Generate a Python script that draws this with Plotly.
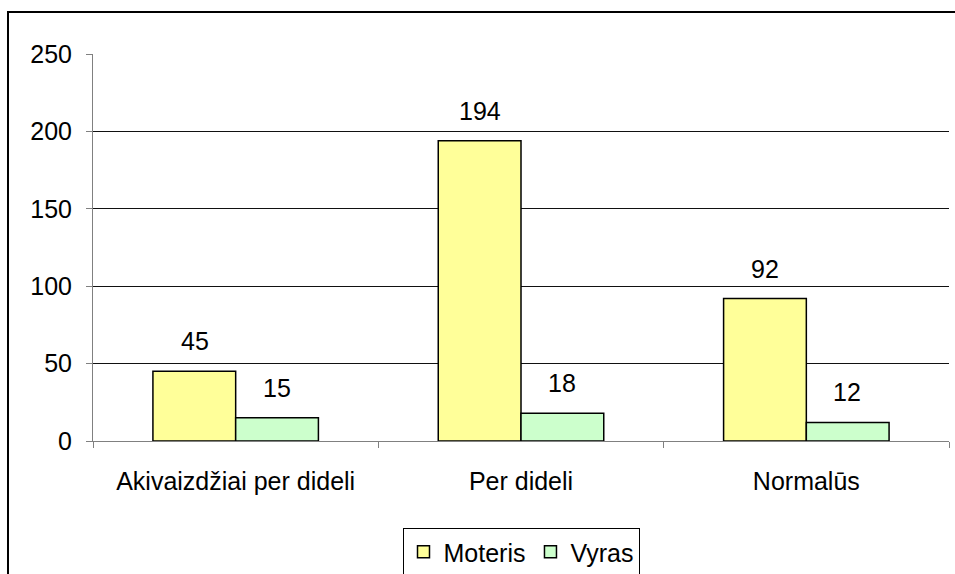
import plotly.graph_objects as go

categories = ["Akivaizdžiai per dideli", "Per dideli", "Normalūs"]
moteris = [45, 194, 92]
vyras = [15, 18, 12]
series_names = ["Moteris", "Vyras"]
y_ticks = [0, 50, 100, 150, 200, 250]
grid_ticks = [50, 100, 150, 200]

FONT = "Liberation Sans, Arial, sans-serif"
FS = 25

fig = go.Figure()
fig.add_trace(go.Bar(name=series_names[0], x=categories, y=moteris,
                     marker=dict(color="#FFFF99", line=dict(color="black", width=1.5))))
fig.add_trace(go.Bar(name=series_names[1], x=categories, y=vyras,
                     marker=dict(color="#CCFFCC", line=dict(color="black", width=1.5))))

# invisible trace to activate grid axis
fig.add_trace(go.Scatter(x=categories, y=moteris, yaxis="y2", mode="markers",
                         marker=dict(opacity=0), showlegend=False, hoverinfo="skip"))

# value labels above bars
for i, c in enumerate(categories):
    for vals, shift in ((moteris, -41), (vyras, 41)):
        fig.add_annotation(x=c, y=vals[i], text=str(vals[i]), showarrow=False,
                           xshift=shift, yanchor="bottom", yshift=14,
                           font=dict(family=FONT, size=FS, color="black"))

fig.update_layout(
    width=955, height=574,
    margin=dict(l=93, r=6, t=54, b=133, autoexpand=False),
    paper_bgcolor="white", plot_bgcolor="white",
    barmode="group", bargap=0.42, bargroupgap=0,
    font=dict(family=FONT, size=FS, color="black"),
    xaxis=dict(showline=True, linecolor="#808080", linewidth=1,
               ticks="outside", tickson="boundaries", ticklen=6, tickcolor="#808080",
               showgrid=False, ticklabelstandoff=18,
               tickfont=dict(family=FONT, size=FS, color="black")),
    yaxis=dict(range=[0, 250], tickvals=y_ticks, showgrid=False, zeroline=False,
               showline=True, linecolor="#808080", linewidth=1,
               ticks="outside", ticklen=6, tickcolor="#808080", ticklabelstandoff=9,
               tickfont=dict(family=FONT, size=FS, color="black")),
    yaxis2=dict(range=[0, 250], overlaying="y", tickvals=grid_ticks, showgrid=True,
                gridcolor="#111111", gridwidth=1, showticklabels=False, zeroline=False,
                showline=False, ticks=""),
    legend=dict(orientation="h", x=0.5, xanchor="center",
                yref="container", y=1 - 528 / 574, yanchor="top",
                bordercolor="black", borderwidth=1, bgcolor="white",
                font=dict(family=FONT, size=FS, color="black"),
                itemwidth=30, tracegroupgap=0),
    showlegend=True,
)

# chart border (top and left visible)
fig.add_shape(type="rect", xref="paper", yref="paper",
              x0=-0.0993, x1=1.3, y0=-0.6, y1=1.1085,
              line=dict(color="black", width=2), layer="below")

fig.write_html("out.html", config={"displayModeBar": False},
               post_script="document.body.style.margin='0';document.body.style.overflow='hidden';")
